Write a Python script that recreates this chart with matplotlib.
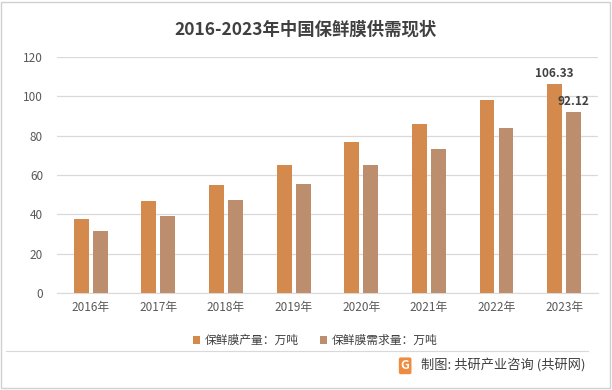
import matplotlib.pyplot as plt
import numpy as np
from matplotlib.patches import Rectangle
from matplotlib.lines import Line2D

plt.rcParams['font.family'] = ['Noto Sans CJK SC', 'DejaVu Sans']

years = ['2016年', '2017年', '2018年', '2019年', '2020年', '2021年', '2022年', '2023年']
production = [37.5, 46.5, 55.0, 65.1, 76.8, 85.7, 98.3, 106.33]
demand = [31.4, 38.9, 47.0, 55.4, 65.1, 73.2, 84.1, 92.12]
labels = ['保鲜膜产量：万吨', '保鲜膜需求量：万吨']
colors = ['#D48A4C', '#BC8E6D']

fig = plt.figure(figsize=(6.12, 3.90), dpi=100)
ax = fig.add_axes([0.093, 0.249, 0.884, 0.605])

x = np.arange(len(years))
w = 0.22
ax.bar(x - 0.14, production, w, color=colors[0], label=labels[0], zorder=3)
ax.bar(x + 0.14, demand, w, color=colors[1], label=labels[1], zorder=3)

# only the last year is labelled
ax.text(x[-1] - 0.14, production[-1] + 2, f'{production[-1]:.2f}', ha='center', va='bottom',
        fontsize=8.5, fontweight='bold', color='#404040')
ax.text(x[-1] + 0.14, demand[-1] + 2, f'{demand[-1]:.2f}', ha='center', va='bottom',
        fontsize=8.5, fontweight='bold', color='#404040')

ax.set_xlim(-0.5, len(years) - 0.5)
ax.set_ylim(0, 120)
ax.set_yticks(range(0, 121, 20))
ax.set_xticks(x)
ax.set_xticklabels(years)
ax.tick_params(axis='both', length=0, labelsize=8.5, labelcolor='#595959')
ax.tick_params(axis='y', pad=10)
ax.tick_params(axis='x', pad=6)
ax.grid(axis='y', color='#D9D9D9', linewidth=0.9, zorder=0)
for s in ['top', 'right', 'left']:
    ax.spines[s].set_visible(False)
ax.spines['bottom'].set_color('#D9D9D9')

fig.text(0.5, 0.923, '2016-2023年中国保鲜膜供需现状', ha='center', va='center',
         fontsize=12.5, fontweight='bold', color='#404040')

ax.legend(loc='upper center', bbox_to_anchor=(0.478, -0.13), ncol=2, frameon=False,
          fontsize=8.5, labelcolor='#404040', handlelength=0.6, handleheight=0.6,
          handletextpad=0.4, columnspacing=1.8)

# separator line and source
fig.add_artist(Line2D([0.01, 0.96], [0.10, 0.10], color='#D9D9D9', linewidth=0.8))
fig.text(0.662, 0.062, 'G', ha='center', va='center', fontsize=9, fontweight='bold',
         color='white', bbox=dict(boxstyle='round,pad=0.15', fc='#F08A3C', ec='none'))
fig.text(0.688, 0.062, '制图: 共研产业咨询 (共研网)', ha='left', va='center',
         fontsize=9.5, color='#404040')

# outer border
fig.add_artist(Rectangle((0.002, 0.004), 0.994, 0.99, transform=fig.transFigure,
                         fill=False, edgecolor='#D0D0D0', linewidth=1))

fig.savefig('out.png', dpi=100)
